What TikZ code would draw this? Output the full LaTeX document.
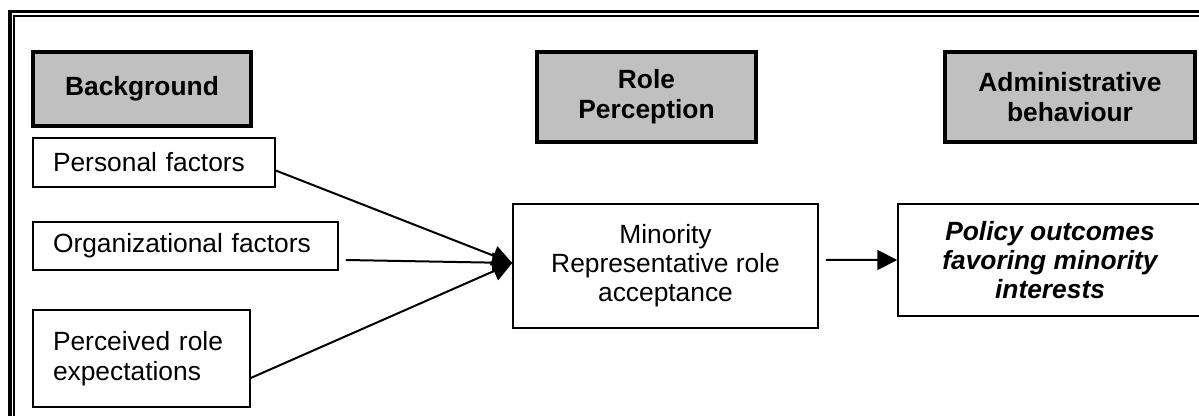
\documentclass[tikz,border=0pt]{standalone}
\usepackage{fontspec}
\setmainfont{Liberation Sans}
\usepackage{tikz}
\usetikzlibrary{arrows.meta}
\definecolor{headgray}{RGB}{192, 192, 192}

\tikzset{
    header/.style={draw, fill=headgray, line width=0.07cm, align=center,
                   font=\bfseries\fontsize{15}{17}\selectfont},
    factor/.style={draw, line width=0.03cm, align=left, inner xsep=0.4cm,
                   font=\fontsize{15}{17}\selectfont},
    stage/.style={draw, line width=0.03cm, align=center,
                  font=\fontsize{15}{16.5}\selectfont},
    link/.style={line width=0.04cm, -{Triangle[length=0.4cm, width=0.4cm]}}
}

\begin{document}
\begin{tikzpicture}
            \useasboundingbox (0.00, 0.00) rectangle (23.98,-8.32);
            \clip             (0.00, 0.00) rectangle (23.98,-8.32);
            % Double frame
            \draw[line width=0.068cm] (0.20,-9.00) -- (0.20,-0.23) -- (25.00,-0.23);
            \draw[line width=0.040cm] (0.29,-9.00) -- (0.29,-0.32) -- (25.00,-0.32);
            % Column headers
            \node[header, minimum width=4.36cm, minimum height=1.48cm] (bg) at ( 2.84,-1.78) {Background};
            \node[header, minimum width=4.38cm, minimum height=1.80cm] (rp) at (12.93,-1.94) {Role\\Perception};
            \node[header, minimum width=5.00cm, minimum height=1.80cm] (ab) at (21.40,-1.94) {Administrative\\behaviour};
            % Background factors
            \node[factor, text width=4.04cm, minimum height=0.98cm] (pf) at ( 3.08,-3.25) {Personal factors};
            \node[factor, text width=5.30cm, minimum height=0.96cm] (of) at ( 3.71,-4.92) {Organizational factors};
            \node[factor, text width=3.54cm, minimum height=1.94cm] (pe) at ( 2.83,-7.17) {Perceived role\\expectations};
            % Role acceptance & outcome
            \node[stage, minimum width=6.10cm, minimum height=2.48cm] (ra) at (13.31,-5.32)
                 {Minority\\Representative role\\acceptance};
            \node[stage, minimum width=6.08cm, minimum height=2.24cm] (po) at (21.00,-5.20)
                 {\bfseries\itshape Policy outcomes\\\bfseries\itshape favoring minority\\\bfseries\itshape interests};
            % Links
            \draw[link] ([yshift=-0.16cm]pf.east)                -- ([yshift=0.06cm]ra.west);
            \draw[link] ([xshift=0.14cm, yshift=-0.28cm]of.east) -- ([yshift=0.06cm]ra.west);
            \draw[link] ([yshift=-0.39cm]pe.east)                -- ([yshift=0.06cm]ra.west);
            \draw[link] ([xshift=0.14cm, yshift=0.12cm]ra.east)  -- (po.west);
        \end{tikzpicture}
\end{document}
